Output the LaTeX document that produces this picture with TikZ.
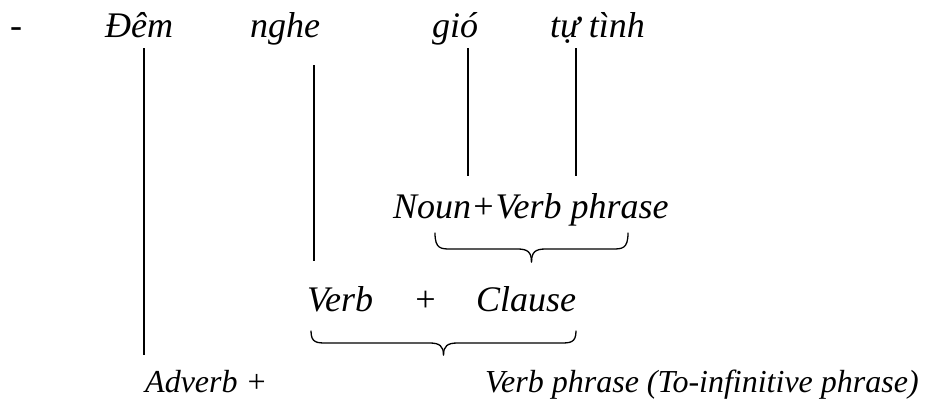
\documentclass[tikz,border=0pt]{standalone}
\usepackage{fontspec}
\setmainfont{Liberation Serif}
\begin{document}
\begin{tikzpicture}[x=1pt,y=-1pt,
  word/.style={anchor=base west,inner sep=0pt,font=\fontsize{36}{42}\selectfont\itshape},
  gloss/.style={anchor=base west,inner sep=0pt,font=\fontsize{32}{38}\selectfont\itshape},
  stem/.style={line width=1.4pt},
  brace/.style={line width=1.3pt,line cap=round}]
\useasboundingbox (0,0) rectangle (934,415);

% sentence
\node[word] (dash) at (10,37) {-};
\node[word] (dem)  at (105,37) {Đêm};
\node[word] (nghe) at (250,37) {nghe};
\node[word] (gio)  at (432,37) {gió};
\node[word] (tutinh) at (550,37) {tự tình};

% analysis levels
\node[word] (nvp) at (393,218) {Noun+Verb phrase};
\node[word] (verb) at (307,311) {Verb};
\node[word] (plus) at (413,311) {+};
\node[word] (clause) at (476,311) {Clause};
\node[gloss] (adv) at (145,392) {Adverb +};
\node[gloss] (vp) at (485,392) {Verb phrase (To-infinitive phrase)};

% stems
\coordinate (demtop) at (144,48);   \coordinate (dembot) at (144,355);
\coordinate (nghetop) at (314,65);  \coordinate (nghebot) at (314,261);
\coordinate (giotop) at (468,48);   \coordinate (giobot) at (468,176);
\coordinate (tttop) at (576,48);    \coordinate (ttbot) at (576,176);
\draw[stem] (demtop) -- (dembot);
\draw[stem] (nghetop) -- (nghebot);
\draw[stem] (giotop) -- (giobot);
\draw[stem] (tttop) -- (ttbot);

% under-braces: left x, right x, top y, middle y, tip y
\newcommand{\phrasebrace}[5]{%
  \pgfmathsetmacro{\bx}{(#1+#2)/2}
  \draw[brace] (#1,#3) .. controls (#1,#4) and (#1+6,#4) .. (#1+16,#4)
    -- (\bx-14,#4) .. controls (\bx-4,#4) and (\bx,#4+3) .. (\bx,#5);
  \draw[brace] (#2,#3) .. controls (#2,#4) and (#2-6,#4) .. (#2-16,#4)
    -- (\bx+14,#4) .. controls (\bx+4,#4) and (\bx,#4+3) .. (\bx,#5);
}
\phrasebrace{435}{628}{233}{249}{262}
\phrasebrace{311}{576}{331}{343}{355}
\end{tikzpicture}
\end{document}
